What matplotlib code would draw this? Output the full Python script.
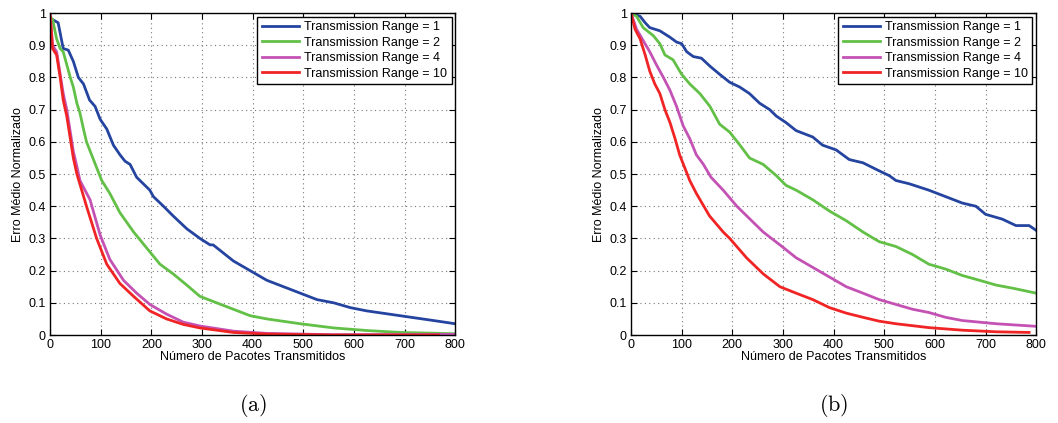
import matplotlib.pyplot as plt
import numpy as np

plt.rcParams['font.family'] = ['Liberation Sans', 'DejaVu Sans']
plt.rcParams['mathtext.fontset'] = 'cm'

labels = ['Transmission Range = 1', 'Transmission Range = 2',
          'Transmission Range = 4', 'Transmission Range = 10']
colors = ['#2444a0', '#62c046', '#c452b4', '#f02424']

# (a)
a1_x = [0, 5, 16, 26, 36, 46, 56, 66, 78, 89, 99, 112, 125, 138, 148, 158, 171, 197, 204, 224,
        243, 270, 296, 316, 322, 362, 395, 428, 461, 494, 527, 560, 593, 625, 691, 757, 800]
a1_y = [0.98, 0.98, 0.97, 0.89, 0.885, 0.85, 0.80, 0.78, 0.73, 0.71, 0.67, 0.64, 0.59, 0.56, 0.54, 0.53, 0.49, 0.45, 0.43, 0.40,
        0.37, 0.33, 0.30, 0.28, 0.28, 0.23, 0.20, 0.17, 0.15, 0.13, 0.11, 0.10, 0.085, 0.075, 0.06, 0.045, 0.035]
a2_x = [0, 5, 13, 20, 26, 33, 40, 46, 53, 59, 66, 72, 82, 92, 102, 118, 138, 165, 191, 217, 243,
        270, 296, 329, 362, 395, 428, 494, 560, 625, 691, 800]
a2_y = [0.99, 0.98, 0.92, 0.89, 0.88, 0.84, 0.80, 0.77, 0.72, 0.69, 0.64, 0.60, 0.56, 0.52, 0.48, 0.44, 0.38, 0.32, 0.27, 0.22, 0.19,
        0.155, 0.12, 0.10, 0.08, 0.06, 0.05, 0.035, 0.022, 0.014, 0.008, 0.004]
a4_x = [0, 5, 13, 20, 26, 33, 40, 46, 52, 59, 79, 99, 118, 145, 171, 197, 230, 263, 296, 362, 428, 560, 800]
a4_y = [1.0, 0.90, 0.88, 0.81, 0.75, 0.70, 0.63, 0.57, 0.53, 0.48, 0.42, 0.31, 0.235, 0.17, 0.13, 0.095, 0.065, 0.04, 0.028, 0.012, 0.005, 0.001, 0.002]
a10_x = [0, 5, 13, 20, 26, 33, 40, 46, 53, 72, 92, 112, 138, 165, 197, 230, 263, 296, 362, 428, 560, 767]
a10_y = [1.0, 0.89, 0.87, 0.80, 0.73, 0.68, 0.61, 0.55, 0.50, 0.40, 0.30, 0.22, 0.16, 0.12, 0.075, 0.05, 0.033, 0.022, 0.008, 0.003, 0.0, 0.0]

# (b)
b1_x = [0, 18, 28, 37, 57, 77, 90, 100, 110, 123, 139, 156, 175, 195, 215, 234, 254, 274, 287, 306,
        326, 359, 378, 405, 431, 458, 490, 510, 523, 549, 588, 621, 654, 681, 700, 733, 760, 786, 800]
b1_y = [1.0, 0.99, 0.97, 0.955, 0.945, 0.925, 0.91, 0.905, 0.88, 0.865, 0.86, 0.835, 0.81, 0.785, 0.77, 0.75, 0.72, 0.70, 0.68, 0.66,
        0.635, 0.615, 0.59, 0.575, 0.545, 0.535, 0.51, 0.495, 0.48, 0.47, 0.45, 0.43, 0.41, 0.40, 0.375, 0.36, 0.34, 0.34, 0.325]
b2_x = [0, 11, 24, 44, 57, 67, 83, 100, 116, 136, 156, 175, 195, 215, 234, 261, 287, 306, 326, 359,
        392, 425, 458, 490, 523, 556, 588, 621, 654, 688, 721, 755, 800]
b2_y = [1.0, 0.99, 0.955, 0.93, 0.905, 0.87, 0.855, 0.81, 0.78, 0.75, 0.71, 0.655, 0.63, 0.59, 0.55, 0.53, 0.495, 0.465, 0.45, 0.42,
        0.385, 0.355, 0.32, 0.29, 0.275, 0.25, 0.22, 0.205, 0.185, 0.17, 0.155, 0.145, 0.13]
b4_x = [0, 11, 24, 37, 50, 64, 77, 90, 103, 116, 129, 143, 158, 182, 209, 235, 261, 294, 326, 359,
        392, 425, 458, 490, 523, 556, 588, 621, 654, 721, 800]
b4_y = [1.0, 0.95, 0.915, 0.88, 0.84, 0.80, 0.76, 0.71, 0.65, 0.61, 0.56, 0.53, 0.49, 0.45, 0.40, 0.36, 0.32, 0.28, 0.24, 0.21,
        0.18, 0.15, 0.13, 0.11, 0.095, 0.08, 0.07, 0.055, 0.045, 0.035, 0.027]
b10_x = [0, 8, 18, 28, 37, 47, 57, 67, 77, 87, 96, 106, 116, 129, 155, 182, 195, 228, 261, 294,
         326, 359, 392, 425, 458, 490, 523, 588, 654, 721, 786]
b10_y = [1.0, 0.95, 0.92, 0.87, 0.82, 0.78, 0.75, 0.70, 0.66, 0.61, 0.56, 0.52, 0.48, 0.44, 0.37, 0.32, 0.30, 0.24, 0.19, 0.15,
         0.13, 0.11, 0.085, 0.068, 0.055, 0.043, 0.035, 0.023, 0.015, 0.01, 0.008]

panels = [
    ([(a1_x, a1_y), (a2_x, a2_y), (a4_x, a4_y), (a10_x, a10_y)], '(a)'),
    ([(b1_x, b1_y), (b2_x, b2_y), (b4_x, b4_y), (b10_x, b10_y)], '(b)'),
]
xticks = np.arange(0, 801, 100)
yticks = np.arange(0, 1.01, 0.1)
ytick_labels = ['0', '0.1', '0.2', '0.3', '0.4', '0.5', '0.6', '0.7', '0.8', '0.9', '1']

fig = plt.figure(figsize=(10.58, 4.23), dpi=100)
lefts = [0.0473, 0.5964]
for (series, tag), left in zip(panels, lefts):
    ax = fig.add_axes([left, 0.208, 0.383, 0.761])
    for (x, y), c, lab in zip(series, colors, labels):
        ax.plot(x, y, color=c, lw=2, label=lab)
    ax.set_xlim(0, 800)
    ax.set_ylim(0, 1)
    ax.set_xticks(xticks)
    ax.set_yticks(yticks)
    ax.set_yticklabels(ytick_labels)
    ax.tick_params(direction='in', top=True, right=True, labelsize=9, length=4, width=0.8, pad=3)
    ax.grid(True, linestyle=(0, (1, 3)), color='#777777', linewidth=0.8)
    for s in ax.spines.values():
        s.set_linewidth(1.0)
    ax.set_xlabel('Número de Pacotes Transmitidos', fontsize=9, labelpad=0)
    ax.set_ylabel('Erro Médio Normalizado', fontsize=9, labelpad=3)
    leg = ax.legend(loc='upper right', fontsize=9, fancybox=False, framealpha=1,
                    edgecolor='black', borderpad=0.35, labelspacing=0.28,
                    handlelength=3.0, handletextpad=0.4, borderaxespad=0.3)
    leg.get_frame().set_linewidth(1.0)
    ax.text(0.5, -0.218, r'$\mathrm{' + tag + '}$', transform=ax.transAxes,
            ha='center', va='center', fontsize=16)

fig.savefig('out.png', dpi=100)
